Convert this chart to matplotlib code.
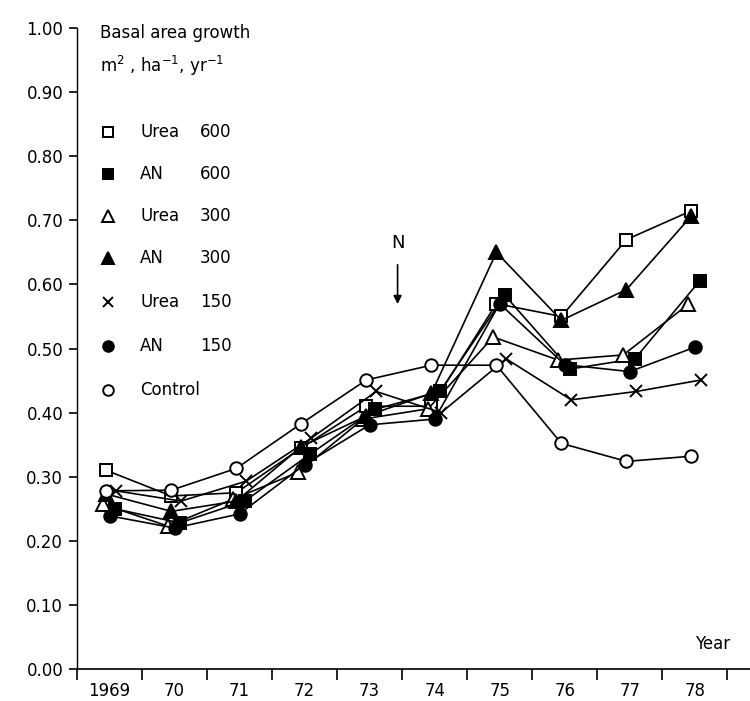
import matplotlib

matplotlib.use('Agg')
import matplotlib.pyplot as plt
import numpy as np

# --- data (basal area growth, m2/ha/yr) ---
year_labels = ['1969', '70', '71', '72', '73', '74', '75', '76', '77', '78']

urea_600 = [0.31, 0.27, 0.275, 0.345, 0.41, 0.41, 0.57, 0.55, 0.67, 0.715]
an_600 = [0.25, 0.228, 0.262, 0.335, 0.405, 0.433, 0.583, 0.468, 0.484, 0.606]
urea_300 = [0.257, 0.223, 0.265, 0.307, 0.39, 0.406, 0.518, 0.482, 0.49, 0.569]
an_300 = [0.273, 0.246, 0.262, 0.347, 0.395, 0.43, 0.65, 0.544, 0.592, 0.707]
urea_150 = [0.278, 0.262, 0.293, 0.36, 0.433, 0.40, 0.484, 0.42, 0.433, 0.451]
an_150 = [0.239, 0.22, 0.242, 0.319, 0.381, 0.39, 0.57, 0.475, 0.464, 0.502]
control = [0.278, 0.279, 0.313, 0.383, 0.451, 0.474, 0.474, 0.352, 0.324, 0.332]

series_names = ['Urea', 'AN', 'Urea', 'AN', 'Urea', 'AN', 'Control']
series_doses = ['600', '600', '300', '300', '150', '150', '']
series_values = [urea_600, an_600, urea_300, an_300, urea_150, an_150, control]

# marker styles and small horizontal stagger (as in the printed figure)
styles = [
    dict(marker='s', mfc='white', ms=8.5, dx=-0.05),
    dict(marker='s', mfc='black', ms=8.5, dx=0.08),
    dict(marker='^', mfc='white', ms=10, dx=-0.1),
    dict(marker='^', mfc='black', ms=10, dx=-0.05),
    dict(marker='x', mfc='black', ms=9, dx=0.1),
    dict(marker='o', mfc='black', ms=9, dx=0.0),
    dict(marker='o', mfc='white', ms=9, dx=-0.05),
]

plt.rcParams['font.family'] = 'DejaVu Sans'
plt.rcParams['font.size'] = 12

fig = plt.figure(figsize=(7.5, 7.01), dpi=100)
ax = fig.add_axes([0.1027, 0.0456, 0.8973, 0.9144])

x = np.arange(len(year_labels))
for vals, st in zip(series_values, styles):
    ax.plot(x + st['dx'], vals, color='black', lw=1.2, marker=st['marker'],
            mfc=st['mfc'], mec='black', mew=1.4, ms=st['ms'], zorder=3)

ax.set_xlim(-0.5, 9.85)
ax.set_ylim(0, 1.0)

for side in ['top', 'right']:
    ax.spines[side].set_visible(False)
ax.spines['left'].set_linewidth(1.0)
ax.spines['bottom'].set_linewidth(1.2)

ax.set_yticks(np.arange(0, 1.01, 0.1))
ax.set_yticklabels([f'{v:.2f}' for v in np.arange(0, 1.01, 0.1)])
ax.tick_params(axis='y', direction='out', length=6, width=1.2, pad=4, labelsize=12)

# year boundaries as ticks, year labels centred between them
ax.set_xticks(np.arange(-0.5, 10, 1.0))
ax.set_xticklabels([])
ax.tick_params(axis='x', which='major', direction='out', length=8, width=1.2)
ax.set_xticks(x, minor=True)
ax.set_xticklabels(year_labels, minor=True)
ax.tick_params(axis='x', which='minor', length=0, pad=9, labelsize=12)

ax.text(9.0, 0.025, 'Year', fontsize=12, ha='left', va='bottom', clip_on=False)

# nitrogen application arrow
ax.text(4.43, 0.665, 'N', fontsize=13, ha='center', va='center')
ax.annotate('', xy=(4.43, 0.565), xytext=(4.43, 0.635),
            arrowprops=dict(arrowstyle='-|>', color='black', lw=1.2,
                            mutation_scale=12))

# legend block drawn by hand in axes coordinates
to_ax = lambda px, py: ((px - 77) / 673, (669 - py) / 641)
ax.text(*to_ax(100, 33), 'Basal area growth', transform=ax.transAxes,
        fontsize=12, va='center', ha='left')
ax.text(*to_ax(100, 66), r'm$^2$ , ha$^{-1}$, yr$^{-1}$', transform=ax.transAxes,
        fontsize=12, va='center', ha='left')

row_y = [132, 174, 216, 258, 302, 346, 390]
for py, name, dose, st in zip(row_y, series_names, series_doses, styles):
    mx, my = to_ax(108, py)
    ax.plot([mx], [my], transform=ax.transAxes, marker=st['marker'],
            mfc=st['mfc'], mec='black', mew=1.4, ms=st['ms'] * 0.85,
            color='black', clip_on=False)
    ax.text(*to_ax(140, py), name, transform=ax.transAxes, fontsize=12,
            va='center', ha='left')
    if dose:
        ax.text(*to_ax(200, py), dose, transform=ax.transAxes, fontsize=12,
                va='center', ha='left')

fig.savefig('out.png', dpi=100)
